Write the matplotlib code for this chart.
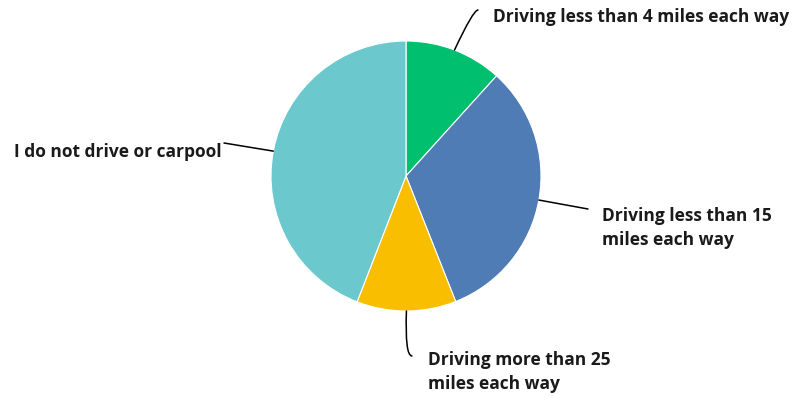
import numpy as np
import matplotlib.pyplot as plt

plt.rcParams['font.family'] = ['Open Sans', 'DejaVu Sans']

labels = ['Driving less than 4 miles each way', 'Driving less than 15\nmiles each way',
          'Driving more than 25\nmiles each way', 'I do not drive or carpool']
values = [11.7, 32.3, 11.9, 44.1]
colors = ['#00BF6F', '#507CB6', '#F9BE00', '#6BC8CD']

W, H = 793, 398
fig = plt.figure(figsize=(W / 100, H / 100), dpi=100)
ax = fig.add_axes([0, 0, 1, 1])

cx, cy, r = 406, H - 176, 135
wedges, _ = ax.pie(values, colors=colors, startangle=90, counterclock=False,
                   center=(cx, cy), radius=r, frame=True,
                   wedgeprops=dict(edgecolor='white', linewidth=0.8))
ax.set_xlim(0, W)
ax.set_ylim(0, H)
ax.set_aspect('equal')
ax.axis('off')

# leader-line end (pixels from top), text anchor, alignment, curve
layout = [
    ((478, 10), (493, 17), 'left', 'angle3,angleA=0,angleB=65'),
    ((588, 209), (602, 228), 'left', 'arc3,rad=0'),
    ((412, 356), (428, 372), 'left', 'angle3,angleA=0,angleB=88'),
    ((224, 143), (222, 152), 'right', 'arc3,rad=0'),
]

txt = dict(fontsize=12.5, fontweight='bold', color='#1a1a1a', linespacing=1.45)
for w, lab, (end, pos, ha, cs) in zip(wedges, labels, layout):
    mid = np.deg2rad((w.theta1 + w.theta2) / 2)
    p = (cx + r * np.cos(mid), cy + r * np.sin(mid))
    ax.annotate('', xy=p, xytext=(end[0], H - end[1]),
                arrowprops=dict(arrowstyle='-', color='black', lw=1.1,
                                connectionstyle=cs, shrinkA=0, shrinkB=0))
    ax.text(pos[0], H - pos[1], lab, ha=ha, va='center', **txt)

fig.savefig('out.png', dpi=100)
